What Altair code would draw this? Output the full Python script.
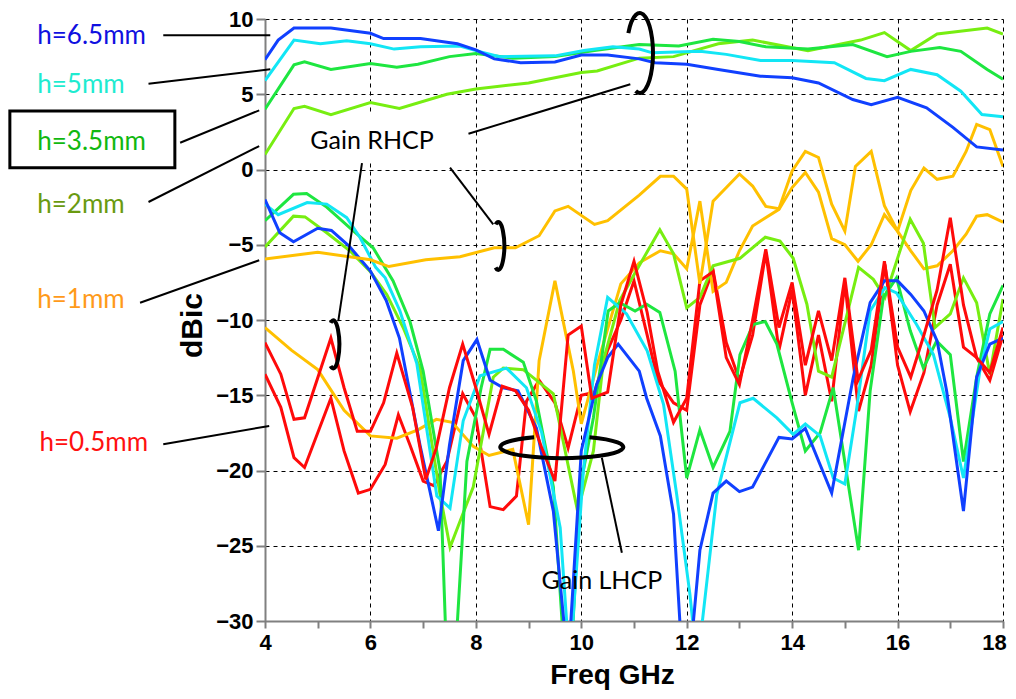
import altair as alt
import pandas as pd

# ---------------- data (frequency GHz, gain dBic) ----------------
# RHCP gains
rh65_f = [4.0, 4.25, 4.55, 5.25, 6.0, 6.25, 6.95, 7.65, 8.0, 8.35, 8.85, 9.5, 10.0, 10.5, 11.1, 11.4, 12.0, 12.6, 13.4, 14.0, 14.5, 15.15, 15.5, 16.0, 16.55, 17.05, 17.5, 18.0]
rh65_v = [7.3, 8.6, 9.4, 9.4, 9.05, 8.7, 8.7, 8.35, 7.95, 7.35, 7.1, 7.15, 7.6, 7.6, 7.35, 7.1, 7.0, 6.65, 6.2, 6.1, 5.75, 4.65, 4.3, 4.8, 4.1, 2.8, 1.5, 1.3]

rh5_f = [4.0, 4.55, 5.05, 5.55, 6.0, 6.45, 6.95, 7.7, 8.0, 8.45, 9.5, 10.05, 10.6, 11.1, 11.35, 12.25, 12.75, 13.4, 14.0, 14.8, 15.4, 15.75, 16.25, 16.75, 17.2, 17.6, 18.0]
rh5_v = [5.9, 8.6, 8.35, 8.55, 8.35, 8.0, 8.15, 8.2, 7.9, 7.5, 7.55, 7.9, 8.15, 8.0, 7.75, 7.85, 7.65, 7.25, 7.25, 7.1, 6.05, 5.9, 6.65, 6.3, 5.2, 3.65, 3.5]

rh35_f = [4.0, 4.55, 4.75, 5.25, 6.0, 6.5, 6.9, 7.5, 8.0, 8.7, 9.5, 10.25, 11.1, 11.85, 12.5, 13.0, 13.5, 14.3, 15.15, 15.8, 16.25, 16.8, 17.2, 17.7, 18.0]
rh35_v = [4.0, 6.95, 7.15, 6.65, 7.05, 6.8, 7.0, 7.5, 7.7, 7.4, 7.5, 7.9, 8.3, 8.2, 8.65, 8.5, 8.15, 8.0, 8.3, 7.5, 7.85, 8.1, 7.85, 6.65, 6.0]

rh2_f = [4.0, 4.55, 4.75, 5.25, 6.0, 6.55, 7.45, 8.0, 9.0, 10.0, 10.3, 11.1, 11.75, 12.6, 13.25, 14.3, 15.3, 15.75, 16.25, 16.75, 17.7, 18.0]
rh2_v = [1.0, 4.05, 4.2, 3.65, 4.45, 4.05, 5.0, 5.35, 5.75, 6.45, 6.55, 7.4, 7.5, 8.35, 8.6, 7.9, 8.6, 9.1, 7.9, 9.0, 9.4, 9.0]

rh1_f = [4.0, 5.0, 6.0, 6.35, 7.05, 7.7, 8.35, 8.75, 9.2, 9.5, 9.75, 10.25, 10.5, 11.1, 11.5, 11.75, 12.0, 12.25, 12.5, 13.0,
         13.25, 13.5, 13.75, 14.0, 14.25, 14.5, 14.75, 15.0, 15.2, 15.5, 15.75, 16.0, 16.25, 16.5, 16.75, 17.05, 17.3, 17.5, 17.75, 18.0]
rh1_v = [-5.95, -5.5, -6.0, -6.45, -6.0, -5.8, -5.2, -5.2, -4.4, -2.75, -2.45, -3.65, -3.4, -1.7, -0.45, -0.45, -1.3, -7.6, -2.1, -0.3,
         -1.1, -2.45, -2.6, -0.1, 1.2, 0.8, -2.3, -4.1, 0.2, 1.2, -2.4, -4.1, -1.4, 0.1, -0.65, -0.45, 1.2, 3.0, 2.65, 0.2]

rh05_f = [4.0, 4.3, 4.55, 4.75, 5.25, 5.5, 5.75, 6.0, 6.25, 6.5, 6.8, 7.05, 7.25, 7.5, 7.75, 8.0, 8.25, 8.5, 8.75, 9.0,
          9.25, 9.5, 9.75, 10.0, 10.2, 10.5, 10.75, 11.0, 11.25, 11.45, 11.75, 12.0, 12.25, 12.5, 12.75, 13.0, 13.25, 13.5, 13.75, 14.0,
          14.25, 14.5, 14.75, 15.0, 15.25, 15.5, 15.75, 16.0, 16.25, 16.5, 16.75, 17.0, 17.25, 17.5, 17.75, 18.0]
rh05_v = [-11.5, -13.6, -16.6, -16.5, -11.2, -14.5, -17.4, -17.4, -15.5, -12.2, -15.8, -20.6, -18.5, -14.5, -11.6, -14.5, -17.6, -14.4, -14.7, -16.0,
          -18.5, -20.7, -11.0, -10.4, -15.2, -14.8, -9.0, -6.1, -9.5, -13.4, -16.8, -15.2, -7.4, -6.8, -12.5, -14.3, -10.0, -5.3, -10.5, -7.5,
          -13.0, -9.4, -12.7, -7.2, -14.0, -12.0, -6.1, -11.8, -13.8, -11.0, -8.0, -3.2, -9.0, -12.5, -13.5, -10.5]

# LHCP gains
lh65_f = [4.0, 4.28, 4.54, 5.0, 5.26, 5.6, 6.0, 6.3, 6.55, 6.94, 7.29, 7.5, 7.76, 8.02, 8.27, 8.52, 8.8, 9.15, 9.47, 9.75,
          10.0, 10.29, 10.5, 10.7, 10.9, 11.1, 11.24, 11.5, 11.75, 11.92, 12.05, 12.25, 12.5, 12.75, 13.0, 13.25, 13.75, 14.0, 14.25, 14.75,
          15.16, 15.48, 15.75, 16.0, 16.25, 16.5, 16.75, 16.93, 17.25, 17.5, 17.75, 18.0]
lh65_v = [-2.0, -4.2, -4.8, -3.9, -4.05, -5.1, -6.75, -8.7, -11.2, -18.3, -24.0, -18.3, -12.7, -11.3, -14.0, -14.5, -14.7, -17.2, -22.7, -33.0,
          -18.7, -14.3, -12.5, -11.6, -12.5, -13.4, -15.2, -17.7, -22.9, -33.0, -33.0, -25.3, -21.5, -20.7, -21.4, -21.1, -17.8, -17.9, -17.2, -21.5,
          -13.8, -8.85, -7.4, -7.4, -8.3, -9.4, -11.4, -14.7, -22.7, -13.8, -11.6, -11.2]

lh5_f = [4.0, 4.25, 4.8, 5.17, 5.55, 5.8, 6.1, 6.28, 6.56, 6.88, 7.26, 7.51, 7.76, 8.08, 8.58, 8.96, 9.25, 9.6, 9.78, 10.04,
         10.25, 10.5, 10.86, 11.25, 11.56, 11.81, 12.06, 12.2, 12.57, 13.01, 13.26, 13.71, 14.02, 14.25, 14.53, 14.78, 15.0, 15.22, 15.48, 15.76,
         15.98, 16.36, 16.68, 17.0, 17.25, 17.56, 17.75, 18.0]
lh5_v = [-2.3, -3.0, -2.2, -2.3, -3.2, -4.5, -6.5, -7.2, -9.4, -12.9, -21.7, -22.5, -16.7, -13.7, -13.2, -14.5, -17.5, -23.8, -33.0, -20.0,
         -13.0, -8.5, -9.6, -12.05, -15.6, -21.6, -28.2, -33.0, -21.6, -15.5, -15.2, -16.5, -17.6, -16.9, -17.7, -20.5, -20.9, -16.0, -9.4, -7.85,
         -8.2, -10.3, -12.3, -16.5, -20.5, -13.4, -10.6, -10.1]

lh35_f = [4.0, 4.54, 4.79, 5.17, 5.68, 6.05, 6.43, 6.75, 7.0, 7.32, 7.45, 7.6, 7.83, 8.1, 8.27, 8.52, 8.9, 9.15, 9.47, 9.69,
          9.8, 9.98, 10.23, 10.51, 10.73, 11.02, 11.24, 11.49, 11.78, 12.0, 12.25, 12.5, 12.82, 13.01, 13.26, 13.49, 13.71, 14.0, 14.25, 14.53,
          14.78, 15.26, 15.48, 15.73, 15.98, 16.24, 16.49, 16.74, 17.0, 17.25, 17.5, 17.75, 18.0]
lh35_v = [-3.4, -1.65, -1.6, -2.5, -4.1, -5.2, -7.4, -10.1, -13.4, -20.0, -33.0, -33.0, -19.4, -14.5, -11.95, -11.95, -12.8, -15.4, -21.1, -33.0,
          -33.0, -21.1, -16.5, -9.4, -8.85, -9.4, -8.95, -9.5, -13.4, -20.5, -17.3, -19.8, -17.4, -12.3, -10.3, -10.1, -11.6, -15.5, -18.7, -17.5,
          -14.5, -25.3, -14.7, -8.5, -7.2, -10.7, -13.2, -11.4, -12.3, -19.4, -13.8, -9.6, -7.7]

lh2_f = [4.0, 4.54, 4.76, 5.17, 5.61, 5.99, 6.31, 6.62, 6.94, 7.32, 7.51, 7.95, 8.33, 8.52, 8.9, 9.47, 9.93, 10.23, 10.42, 10.73,
         11.0, 11.49, 11.75, 12.0, 12.25, 12.5, 13.01, 13.49, 13.77, 14.02, 14.28, 14.5, 14.75, 15.26, 15.54, 15.76, 16.24, 16.49, 16.71, 17.0,
         17.25, 17.5, 17.75, 18.0]
lh2_v = [-5.15, -3.1, -3.15, -4.2, -5.4, -6.75, -8.3, -10.5, -13.2, -21.6, -25.1, -21.1, -13.8, -13.2, -13.3, -14.9, -22.7, -18.7, -12.7, -8.7,
         -7.0, -4.0, -5.6, -9.2, -8.5, -6.4, -5.9, -4.5, -4.75, -5.9, -8.95, -13.4, -13.8, -6.5, -7.3, -8.5, -3.3, -4.9, -10.5, -9.6,
         -7.2, -8.85, -13.6, -8.6]

lh1_f = [4.0, 4.5, 5.0, 5.5, 6.0, 6.5, 6.9, 7.25, 7.55, 7.95, 8.25, 8.7, 9.0, 9.2, 9.5, 9.85, 10.0, 10.3, 10.75, 11.1,
         11.5, 11.75, 12.0, 12.25, 12.5, 12.75, 13.0, 13.25, 13.75, 14.0, 14.25, 14.5, 14.75, 15.0, 15.25, 15.5, 15.75, 16.0, 16.25, 16.5,
         16.75, 17.05, 17.3, 17.5, 17.7, 18.0]
lh1_v = [-10.5, -12.0, -13.3, -16.0, -17.7, -17.85, -17.3, -16.6, -16.8, -18.4, -19.0, -18.6, -23.6, -12.7, -7.4, -13.4, -16.9, -13.0, -7.6, -6.2,
         -5.4, -5.6, -6.6, -2.1, -8.1, -7.5, -5.4, -3.75, -2.65, -1.2, -0.2, -1.5, -4.6, -5.0, -6.1, -5.0, -3.0, -4.1, -5.4, -6.6,
         -6.4, -5.4, -4.3, -3.1, -3.0, -3.5]

lh05_f = [4.0, 4.3, 4.55, 4.75, 5.25, 5.5, 5.77, 6.0, 6.28, 6.53, 6.75, 7.0, 7.2, 7.45, 7.75, 8.0, 8.27, 8.52, 8.77, 8.96,
          9.2, 9.5, 9.75, 10.0, 10.25, 10.5, 10.75, 11.0, 11.25, 11.45, 11.75, 12.0, 12.25, 12.5, 12.75, 13.0, 13.25, 13.5, 13.75, 14.0,
          14.25, 14.5, 14.75, 15.0, 15.26, 15.5, 15.76, 16.0, 16.24, 16.5, 16.75, 17.0, 17.25, 17.5, 17.75, 18.0]
lh05_v = [-13.6, -15.8, -19.15, -19.8, -15.2, -18.7, -21.5, -21.25, -19.6, -16.3, -18.3, -20.7, -21.0, -19.4, -14.9, -16.5, -22.4, -22.6, -21.7, -15.4,
          -14.0, -15.5, -18.5, -15.0, -14.8, -12.0, -10.0, -7.4, -11.0, -14.0, -15.5, -16.0, -9.0, -6.7, -11.5, -14.0, -11.0, -5.5, -12.0, -8.0,
          -15.0, -11.0, -15.4, -7.5, -16.05, -13.0, -6.3, -13.0, -16.1, -13.5, -9.0, -6.3, -11.8, -12.5, -14.0, -11.0]

series_names = ["LHCP 0.5", "LHCP 1", "LHCP 2", "LHCP 3.5", "LHCP 5", "LHCP 6.5",
                "RHCP 0.5", "RHCP 1", "RHCP 2", "RHCP 3.5", "RHCP 5", "RHCP 6.5"]
series_f = [lh05_f, lh1_f, lh2_f, lh35_f, lh5_f, lh65_f, rh05_f, rh1_f, rh2_f, rh35_f, rh5_f, rh65_f]
series_v = [lh05_v, lh1_v, lh2_v, lh35_v, lh5_v, lh65_v, rh05_v, rh1_v, rh2_v, rh35_v, rh5_v, rh65_v]
series_colors = ["#FF0A0A", "#FFC000", "#77EE11", "#1EE640", "#12E6F5", "#1040FF",
                 "#FF0A0A", "#FFC000", "#77EE11", "#1EE640", "#12E6F5", "#1040FF"]

# legend labels (placed left of the plot, in data units)
label_text = ["h=6.5mm", "h=5mm", "h=3.5mm", "h=2mm", "h=1mm", "h=0.5mm"]
label_f = [-0.32, -0.32, -0.32, -0.32, -0.32, -0.28]
label_v = [8.34, 5.10, 1.30, -2.87, -9.18, -18.70]
label_color = ["#1010E0", "#1EEBD0", "#10B810", "#6A9A10", "#FF9A1A", "#FF1010"]

# leader lines
lead_f = [2.07, 1.79, 2.39, 1.79, 1.63, 2.07, 7.86, 5.84, 7.51, 10.39]
lead_v = [8.92, 5.70, 1.78, -2.16, -8.85, -18.26, 2.38, 0.43, 0.12, -19.15]
lead_f2 = [4.10, 4.10, 3.89, 3.89, 3.89, 4.08, 10.93, 5.39, 8.33, 10.77]
lead_v2 = [8.92, 6.66, 3.93, 1.56, -6.03, -17.04, 5.66, -10.07, -3.65, -25.46]

# boxed label frame
box_f = [-0.84]; box_f2 = [2.29]; box_v = [3.89]; box_v2 = [0.12]
# white backing behind "Gain RHCP"
wbox_f = [4.76]; wbox_f2 = [7.32]; wbox_v = [3.75]; wbox_v2 = [0.43]

gain_text = ["Gain RHCP", "Gain LHCP"]
gain_f = [6.03, 10.39]
gain_v = [1.36, -27.89]

# bracket marks
big_f = [11.11]; big_v = [7.74]
small_f = [8.43, 5.30]; small_v = [-5.08, -11.62]
ell_f = [9.63]; ell_v = [-18.44]

# ---------------- build tables ----------------
rows = []
for name, fs, vs in zip(series_names, series_f, series_v):
    for f, v in zip(fs, vs):
        rows.append({"series": name, "f": f, "v": v})
lines_df = pd.DataFrame(rows)

labels_df = pd.DataFrame({"t": label_text, "f": label_f, "v": label_v, "c": label_color})
lead_df = pd.DataFrame({"f": lead_f, "v": lead_v, "f2": lead_f2, "v2": lead_v2})
box_df = pd.DataFrame({"f": box_f, "f2": box_f2, "v": box_v, "v2": box_v2})
wbox_df = pd.DataFrame({"f": wbox_f, "f2": wbox_f2, "v": wbox_v, "v2": wbox_v2})
gain_df = pd.DataFrame({"t": gain_text, "f": gain_f, "v": gain_v})
big_df = pd.DataFrame({"f": big_f, "v": big_v})
small_df = pd.DataFrame({"f": small_f, "v": small_v})
ell_df = pd.DataFrame({"f": ell_f, "v": ell_v})

xs = alt.Scale(domain=[4, 18], nice=False, zero=False)
ys = alt.Scale(domain=[-30, 10], nice=False, zero=False)

AXIS_FONT = "Liberation Sans"
x_axis = alt.Axis(
    values=list(range(4, 19)),
    labelExpr="datum.value % 2 === 0 ? datum.label : ''",
    labelOverlap=False, labelFlush=False,
    labelOffset={"condition": {"test": "datum.value === 18", "value": -9}, "value": 0},
    grid=True, gridColor="black", gridDash=[4, 4], gridWidth=1,
    gridOpacity={"condition": {"test": "datum.value % 2 !== 0", "value": 0}, "value": 1},
    domainColor="#808080", domainWidth=2, tickColor="#808080", tickWidth=2, tickSize=7,
    labelFont=AXIS_FONT, labelFontWeight="bold", labelFontSize=22, labelColor="black", labelPadding=4,
    title="Freq GHz", titleFont=AXIS_FONT, titleFontWeight="bold", titleFontSize=28, titleColor="black",
    titleX=347, titleY=54, titleAlign="center", titleBaseline="middle",
)
y_axis = alt.Axis(
    values=list(range(-30, 11, 5)),
    labelOverlap=False, labelFlush=False,
    grid=True, gridColor="black", gridDash=[4, 4], gridWidth=1,
    domainColor="#808080", domainWidth=2, tickColor="#808080", tickWidth=2, tickSize=9,
    labelFont=AXIS_FONT, labelFontWeight="bold", labelFontSize=22, labelColor="black", labelPadding=3,
    title="dBic", titleFont=AXIS_FONT, titleFontWeight="bold", titleFontSize=30, titleColor="black",
    titleX=-73, titleY=306, titleAngle=270, titleAlign="center", titleBaseline="middle",
)

wbox = alt.Chart(wbox_df).mark_rect(color="white").encode(
    x=alt.X("f:Q", scale=xs), x2="f2:Q", y=alt.Y("v:Q", scale=ys), y2="v2:Q")

lines = alt.Chart(lines_df).mark_line(strokeWidth=3, clip=True).encode(
    x=alt.X("f:Q", scale=xs, axis=x_axis),
    y=alt.Y("v:Q", scale=ys, axis=y_axis),
    color=alt.Color("series:N", scale=alt.Scale(domain=series_names, range=series_colors), legend=None),
)

frame = alt.Chart(box_df).mark_rect(fillOpacity=0, stroke="black", strokeWidth=3).encode(
    x=alt.X("f:Q", scale=xs), x2="f2:Q", y=alt.Y("v:Q", scale=ys), y2="v2:Q")

leads = alt.Chart(lead_df).mark_rule(color="black", strokeWidth=2).encode(
    x=alt.X("f:Q", scale=xs), x2="f2:Q", y=alt.Y("v:Q", scale=ys), y2="v2:Q")

labels = alt.Chart(labels_df).mark_text(font="Lato", fontSize=26, align="left", baseline="alphabetic").encode(
    x=alt.X("f:Q", scale=xs), y=alt.Y("v:Q", scale=ys), text="t:N", color=alt.Color("c:N", scale=None))

gains = alt.Chart(gain_df).mark_text(font="Lato", fontSize=25, align="center", baseline="alphabetic", color="black").encode(
    x=alt.X("f:Q", scale=xs), y=alt.Y("v:Q", scale=ys), text="t:N")

big = alt.Chart(big_df).mark_point(
    shape="M-0.286,-0.5 A0.33,1 0 1,1 -0.103,0.95", size=6400,
    filled=False, color="black", strokeWidth=4, opacity=1).encode(
    x=alt.X("f:Q", scale=xs), y=alt.Y("v:Q", scale=ys))

small = alt.Chart(small_df).mark_point(
    shape="M-0.12,-0.9 A0.25,1 0 1,1 -0.12,0.9", size=2300,
    filled=False, color="black", strokeWidth=4, opacity=1).encode(
    x=alt.X("f:Q", scale=xs), y=alt.Y("v:Q", scale=ys))

ell = alt.Chart(ell_df).mark_point(
    shape="M0.45,-0.16 A1,0.18 0 1,1 -0.45,-0.16", size=15129,
    filled=False, color="black", strokeWidth=4, opacity=1).encode(
    x=alt.X("f:Q", scale=xs), y=alt.Y("v:Q", scale=ys))

chart = alt.layer(wbox, lines, frame, leads, labels, gains, big, small, ell).properties(
    width=738, height=602,
    padding={"left": 257, "top": 11, "right": 5, "bottom": 70},
    autosize=alt.AutoSizeParams(type="none"),
).configure_view(stroke="transparent")

chart.save("out.html", embed_options={"renderer": "svg", "actions": False})
